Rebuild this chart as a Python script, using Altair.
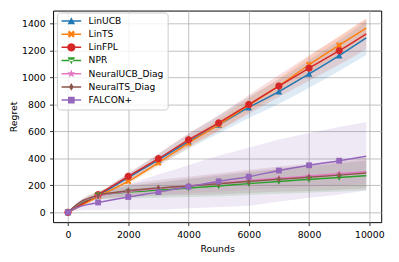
import altair as alt
import pandas as pd
import numpy as np

# ---------------- data ----------------
names = ["LinUCB", "LinTS", "LinFPL", "NPR", "NeuralUCB_Diag", "NeuralTS_Diag", "FALCON+"]
colors = ["#1f77b4", "#ff7f0e", "#d62728", "#2ca02c", "#e377c2", "#8c564b", "#9467bd"]

rounds = [0, 250, 500, 750, 1000, 2000, 3000, 4000, 5000, 6000, 7000, 8000, 9000, 9900]
marker_rounds = [0, 1000, 2000, 3000, 4000, 5000, 6000, 7000, 8000, 9000]

linucb = [0, 33, 64, 95, 125, 258, 390, 525, 650, 778, 896, 1027, 1163, 1294]
lints = [0, 28, 57, 87, 118, 230, 368, 514, 650, 795, 938, 1095, 1240, 1366]
linfpl = [0, 34, 67, 99, 131, 267, 398, 538, 663, 800, 937, 1070, 1199, 1325]
npr = [0, 45, 80, 103, 125, 150, 165, 180, 196, 213, 229, 244, 259, 272]
neuralucb = [0, 48, 85, 105, 122, 155, 176, 196, 216, 236, 253, 269, 286, 302]
neuralts = [0, 50, 88, 110, 126, 160, 181, 196, 212, 229, 246, 260, 276, 292]
falcon = [0, 30, 50, 62, 73, 114, 150, 190, 230, 264, 310, 349, 383, 416]

linucb_sd = [0, 4, 8, 11, 14, 28, 40, 54, 66, 78, 90, 102, 114, 126]
lints_sd = [0, 3, 6, 8, 10, 18, 26, 34, 42, 50, 56, 62, 68, 72]
linfpl_sd = [0, 4, 7, 10, 13, 25, 37, 48, 58, 70, 82, 94, 104, 114]
npr_sd = [0, 10, 18, 24, 30, 45, 57, 67, 76, 84, 91, 98, 104, 110]
neuralucb_sd = [0, 8, 14, 19, 24, 35, 45, 54, 62, 68, 74, 80, 85, 90]
neuralts_sd = [0, 10, 18, 24, 30, 45, 58, 68, 78, 86, 94, 101, 108, 115]
falcon_sd = [0, 20, 35, 45, 55, 95, 130, 160, 190, 215, 230, 240, 250, 255]

x_ticks = [0, 2000, 4000, 6000, 8000, 10000]
y_ticks = [0, 200, 400, 600, 800, 1000, 1200, 1400]

means = [linucb, lints, linfpl, npr, neuralucb, neuralts, falcon]
sds = [linucb_sd, lints_sd, linfpl_sd, npr_sd, neuralucb_sd, neuralts_sd, falcon_sd]

rows = []
for i, (n, m, s) in enumerate(zip(names, means, sds)):
    for r, v, h in zip(rounds, m, s):
        rows.append({"series": n, "order": i, "round": r, "regret": v,
                     "lo": v - h, "hi": v + h})
df = pd.DataFrame(rows)
mk = df[df["round"].isin(marker_rounds)].copy()

# ---------------- marker shapes ----------------
def poly(pts, k=1.0):
    return "M" + "L".join(f"{x*k:.3f},{y*k:.3f}" for x, y in pts) + "Z"

tri_up = [(0, -0.95), (0.95, 0.85), (-0.95, 0.85)]
tri_dn = [(0, 0.95), (0.95, -0.85), (-0.95, -0.85)]
w = 0.3
plus = [(w, -1), (w, -w), (1, -w), (1, w), (w, w), (w, 1), (-w, 1), (-w, w),
        (-1, w), (-1, -w), (-w, -w), (-w, -1)]
c45 = np.cos(np.pi / 4)
xmark = [((x - y) * c45, (x + y) * c45) for x, y in plus]
star = []
for j in range(10):
    ang = -np.pi / 2 + j * np.pi / 5
    rr = 1.0 if j % 2 == 0 else 0.42
    star.append((rr * np.cos(ang), rr * np.sin(ang)))
circle = [(1.05 * np.cos(a), 1.05 * np.sin(a)) for a in np.linspace(0, 2 * np.pi, 24, endpoint=False)]
thin_d = [(0, -1), (0.6, 0), (0, 1), (-0.6, 0)]
square = [(-0.85, -0.85), (0.85, -0.85), (0.85, 0.85), (-0.85, 0.85)]
shape_pts = [tri_up, xmark, circle, tri_dn, [(x * 1.1, y * 1.1) for x, y in star], thin_d, square]

plot_shapes = [poly(p, 1.0) for p in shape_pts]
bar = "M-2.5,-0.19L2.5,-0.19L2.5,0.19L-2.5,0.19Z"
legend_shapes = [bar + poly(p, 1.0) for p in shape_pts]

# ---------------- chart ----------------
FONT = "DejaVu Sans"
xscale = alt.Scale(domain=[-495, 10395], nice=False, zero=False)
yscale = alt.Scale(domain=[-73, 1497], nice=False, zero=False)
xaxis = alt.Axis(values=x_ticks, format="d", title="Rounds", labelOverlap=False)
yaxis = alt.Axis(values=y_ticks, format="d", title="Regret", labelOverlap=False)

color_nolegend = alt.Color("series:N", scale=alt.Scale(domain=names, range=colors), legend=None)

X = alt.X("round:Q", scale=xscale, axis=xaxis, title="Rounds")

bands = alt.Chart(df).mark_area(opacity=0.15, interpolate="monotone").encode(
    x=X,
    y=alt.Y("lo:Q", scale=yscale, axis=yaxis, title="Regret"),
    y2="hi:Q",
    color=color_nolegend,
    detail="series:N",
    order=alt.Order("order:Q"),
)

lines = alt.Chart(df).mark_line(strokeWidth=1.5, interpolate="monotone").encode(
    x=X,
    y=alt.Y("regret:Q", scale=yscale, axis=yaxis, title="Regret"),
    color=color_nolegend,
    order=alt.Order("round:Q"),
)

points = alt.Chart(mk).mark_point(filled=True, opacity=1, size=49).encode(
    x=X,
    y=alt.Y("regret:Q", scale=yscale, axis=yaxis, title="Regret"),
    color=color_nolegend,
    shape=alt.Shape("series:N", scale=alt.Scale(domain=names, range=plot_shapes), legend=None),
    order=alt.Order("order:Q"),
)

legend = alt.Legend(
    title=None, orient="none", legendX=4, legendY=2,
    labelFont=FONT, labelFontSize=9.3, labelColor="black",
    symbolSize=64, symbolStrokeWidth=0, symbolOffset=6, labelOffset=13,
    rowPadding=3.45, padding=4, symbolOpacity=1,
    fillColor="rgba(255,255,255,0.8)", strokeColor="#cccccc", cornerRadius=3,
)

legend_layer = alt.Chart(mk).mark_point(filled=True, opacity=0).encode(
    x=X,
    y=alt.Y("regret:Q", scale=yscale, axis=yaxis, title="Regret"),
    color=alt.Color("series:N", scale=alt.Scale(domain=names, range=colors), legend=legend),
    shape=alt.Shape("series:N", scale=alt.Scale(domain=names, range=legend_shapes), legend=legend),
)

chart = alt.layer(bands, lines, points, legend_layer).resolve_scale(
    color="independent", shape="independent"
).properties(
    width=335, height=216,
    padding={"left": 46, "top": 0, "right": 10, "bottom": 36},
    autosize=alt.AutoSizeParams(type="none"),
).configure_view(
    stroke="black", strokeWidth=1
).configure_axis(
    domain=False, grid=True, gridColor="#b0b0b0", gridWidth=0.8,
    tickColor="black", tickSize=3.5, tickWidth=0.8,
    labelFont=FONT, labelFontSize=9.5, labelColor="black",
    titleFont=FONT, titleFontSize=9.5, titleFontWeight="normal", titleColor="black",
).configure_axisX(
    labelPadding=4, titlePadding=5
).configure_axisY(
    labelPadding=4.5, titlePadding=3
)

chart.save("out.html", embed_options={"renderer": "svg", "actions": False})
